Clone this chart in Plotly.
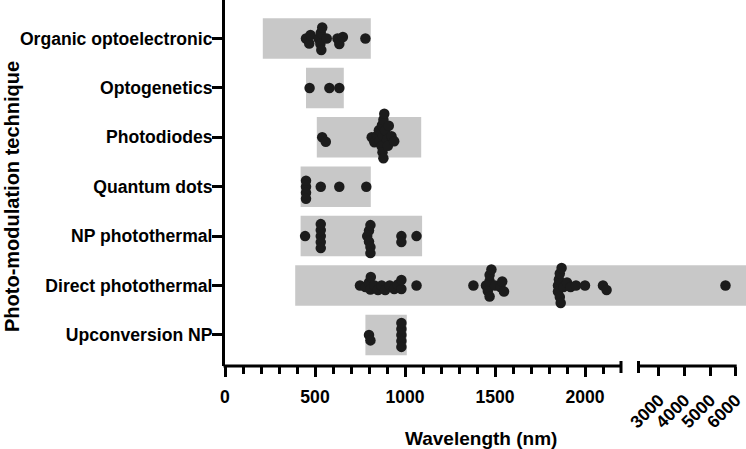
import plotly.graph_objects as go

# ---------------- data ----------------
categories = ["Organic optoelectronic", "Optogenetics", "Photodiodes", "Quantum dots",
              "NP photothermal", "Direct photothermal", "Upconversion NP"]

organic = [450, 468, 475, 520, 530, 532, 535, 540, 565, 625, 635, 655, 780]
optogenetics = [470, 580, 635]
photodiodes = [540, 560, 815, 830, 845, 855, 860, 870, 872, 875, 878, 880, 880, 885,
               890, 900, 905, 910, 925, 940]
quantum_dots = [450, 450, 450, 450, 532, 635, 785]
np_photothermal = [445, 532, 532, 532, 532, 532, 790, 800, 800, 808, 808, 808, 980, 980, 1064]
direct_photothermal = [750, 780, 800, 808, 810, 830, 850, 870, 890, 915, 940, 960, 980, 980,
                       1064, 1380, 1450, 1460, 1470, 1470, 1470, 1480, 1500, 1530, 1540, 1550,
                       1850, 1850, 1855, 1860, 1860, 1865, 1870, 1880, 1900, 1920, 1950, 2000,
                       2100, 2120, 5600]
upconversion = [800, 808, 980, 980, 980, 980, 980]

range_min = [210, 450, 510, 420, 420, 390, 780]
range_max = [810, 660, 1090, 810, 1095, 6500, 1010]

seg1_ticks = [0, 500, 1000, 1500, 2000]
seg1_minor = [v for v in range(100, 2200, 100) if v % 500 != 0]
seg2_ticks = [3000, 4000, 5000, 6000]

series = [organic, optogenetics, photodiodes, quantum_dots, np_photothermal,
          direct_photothermal, upconversion]

# ---------------- scale (broken axis) ----------------
W, H = 746, 449
ML, MB = 225, 83
PW = W - ML
PH = H - MB
SEG1_HI = 2200
SEG1_PX = 396.0
GAP_PX = 17.5
SEG2_PX_PER_NM = 0.02558
SEG2_END = 6000


def to_px(v, seg2_start=False):
    if v < SEG1_HI or (v == SEG1_HI and not seg2_start):
        return v * SEG1_PX / SEG1_HI
    return SEG1_PX + GAP_PX + (v - SEG1_HI) * SEG2_PX_PER_NM


Y_TOP, Y_BOT = -0.78, 6.63
PX_PER_Y = PH / (Y_BOT - Y_TOP)


def swarm(values, d=5.6):
    placed = []
    offs = [0.0] * len(values)
    order = sorted(range(len(values)), key=lambda i: values[i])
    cands = [0.0]
    for k in range(1, 200):
        cands += [k * 0.5, -k * 0.5]
    for i in order:
        xp = to_px(values[i])
        for dy in cands:
            if all((xp - px) ** 2 + (dy - py) ** 2 >= d * d for px, py in placed):
                break
        placed.append((xp, dy))
        offs[i] = dy
    return offs


FONT = "Liberation Sans, Arial, sans-serif"
fig = go.Figure()

# gray range bars
fig.add_trace(go.Bar(
    orientation="h",
    y=list(range(len(categories))),
    base=[to_px(a) for a in range_min],
    x=[to_px(b) - to_px(a) for a, b in zip(range_min, range_max)],
    width=0.82,
    marker=dict(color="#c8c8c8", line=dict(width=0)),
    hoverinfo="skip",
    showlegend=False,
))

# dots
for i, vals in enumerate(series):
    offs = swarm(vals)
    fig.add_trace(go.Scatter(
        x=[to_px(v) for v in vals],
        y=[i + o / PX_PER_Y for o in offs],
        mode="markers",
        marker=dict(size=10.5, color="#1c1c1c", line=dict(width=0)),
        showlegend=False,
        cliponaxis=False,
    ))

# placeholder trace for second x-axis segment
fig.add_trace(go.Scatter(x=[None], y=[None], xaxis="x2", showlegend=False, hoverinfo="skip"))

tickfont = dict(family=FONT, size=17.6, color="black", weight="bold")

shapes = []
line = dict(color="black", width=3)
# axis line segments
shapes.append(dict(type="line", xref="paper", yref="paper",
                   x0=(to_px(0) - 1.5) / PW, x1=to_px(SEG1_HI) / PW, y0=0, y1=0, line=line))
shapes.append(dict(type="line", xref="paper", yref="paper",
                   x0=to_px(SEG1_HI, True) / PW, x1=(to_px(SEG2_END) + 1) / PW, y0=0, y1=0,
                   line=line))
# end caps at the break
for xv in [to_px(SEG1_HI), to_px(SEG1_HI, True)]:
    shapes.append(dict(type="line", xref="paper", yref="paper", ysizemode="pixel", yanchor=0,
                       x0=xv / PW, x1=xv / PW, y0=-7, y1=5, line=line))

fig.update_layout(
    width=W, height=H,
    margin=dict(l=ML, r=0, t=0, b=MB, autoexpand=False),
    paper_bgcolor="white", plot_bgcolor="white",
    barmode="overlay",
    showlegend=False,
    xaxis=dict(
        range=[0, PW], domain=[0, 1], showgrid=False, zeroline=False, showline=False,
        automargin=False,
        tickmode="array", tickvals=[to_px(t) for t in seg1_ticks],
        ticktext=[str(t) for t in seg1_ticks],
        ticks="outside", ticklen=10, tickwidth=3, tickcolor="black",
        minor=dict(tickmode="array", tickvals=[to_px(t) for t in seg1_minor],
                   ticks="outside", ticklen=7, tickwidth=2.5, tickcolor="black", showgrid=False),
        tickfont=tickfont, tickangle=0, ticklabelstandoff=5,
    ),
    xaxis2=dict(
        range=[0, PW], overlaying="x", anchor="y", side="bottom",
        showgrid=False, zeroline=False, showline=False, automargin=False,
        tickmode="array", tickvals=[to_px(t) for t in seg2_ticks],
        ticktext=[str(t) for t in seg2_ticks],
        ticks="outside", ticklen=9, tickwidth=3, tickcolor="black",
        tickfont=tickfont, tickangle=-45, ticklabelstandoff=7,
    ),
    yaxis=dict(
        range=[Y_BOT, Y_TOP], showgrid=False, zeroline=False, automargin=False,
        showline=True, linewidth=3, linecolor="black",
        tickmode="array", tickvals=list(range(len(categories))), ticktext=categories,
        ticks="outside", ticklen=10, tickwidth=3, tickcolor="black",
        tickfont=tickfont, ticklabelstandoff=-4,
    ),
    shapes=shapes,
    annotations=[
        dict(text="Wavelength (nm)", xref="paper", yref="paper",
             x=(481 - ML) / PW, y=(PH - 438) / PH, xanchor="center", yanchor="middle",
             showarrow=False, font=dict(family=FONT, size=19, color="black", weight="bold")),
        dict(text="Photo-modulation technique", xref="paper", yref="paper",
             x=(12 - ML) / PW, y=(PH - 197) / PH, xanchor="center", yanchor="middle",
             textangle=-90, showarrow=False,
             font=dict(family=FONT, size=20, color="black", weight="bold")),
    ],
)

fig.write_html("out.html", config={"displayModeBar": False},
               post_script="document.body.style.margin='0';document.body.style.padding='0';")
